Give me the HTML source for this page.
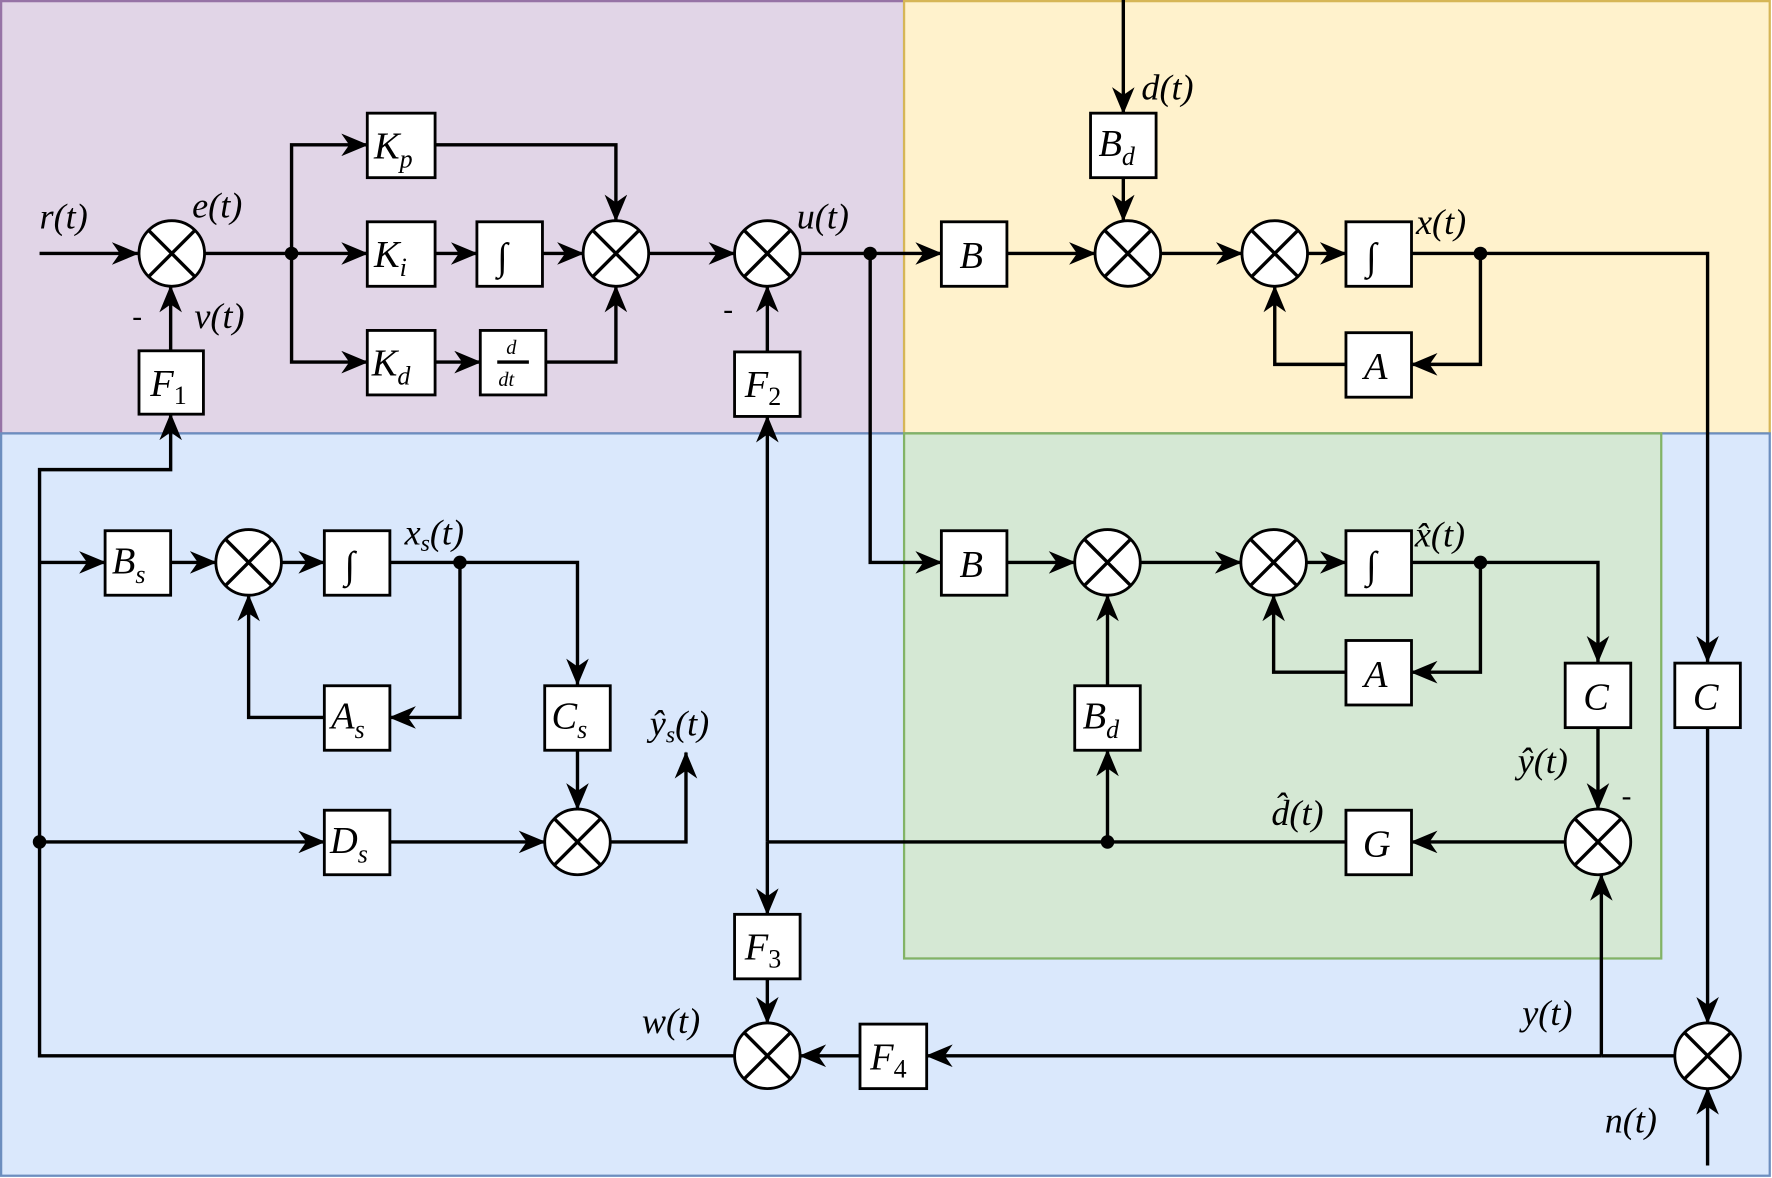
<!DOCTYPE html>
<html><head><meta charset="utf-8"><style>
html,body{margin:0;padding:0;background:#fff}
svg{display:block}
text{font-family:"Liberation Serif",serif;font-style:italic;fill:#000}
.b{fill:#fff;stroke:#000;stroke-width:2.5}
.l{fill:none;stroke:#000;stroke-width:3}
.a{fill:none;stroke:#000;stroke-width:3;marker-end:url(#ar)}
</style></head><body>
<svg width="1772" height="1178" viewBox="0 0 1568 1041" preserveAspectRatio="none" xmlns="http://www.w3.org/2000/svg">
<defs>
<marker id="ar" viewBox="0 0 24 20" refX="23" refY="10" markerWidth="24" markerHeight="20" markerUnits="userSpaceOnUse" orient="auto">
<path d="M0,0 L24,10 L0,20 L7,10 Z" fill="#000"/>
</marker>
<g id="sum"><circle r="29" class="b" stroke-width="3"/><path d="M-20.5,-20.5 L20.5,20.5 M20.5,-20.5 L-20.5,20.5" class="l"/></g>
</defs>
<rect x="1" y="1" width="799" height="382" fill="#e1d5e7" stroke="#9673a6" stroke-width="2"/>
<rect x="800" y="1" width="766" height="382" fill="#fff2cc" stroke="#d6b656" stroke-width="2"/>
<rect x="1" y="383" width="1565" height="656" fill="#dae8fc" stroke="#6c8ebf" stroke-width="2"/>
<rect x="800" y="383" width="670" height="464" fill="#d5e8d4" stroke="#82b366" stroke-width="2"/>

<path class="a" d="M35,224 H122"/>
<path class="a" d="M181,224 H325"/>
<path class="a" d="M258,224 V128 H325"/>
<path class="a" d="M258,224 V320 H325"/>
<path class="a" d="M385,224 H422"/>
<path class="a" d="M480,224 H516"/>
<path class="a" d="M385,128 H545 V195"/>
<path class="a" d="M483,320 H545 V253"/>
<path class="a" d="M385,320 H425"/>
<path class="a" d="M574,224 H650"/>
<path class="a" d="M708,224 H833"/>
<path class="a" d="M770,224 V497 H833"/>
<path class="a" d="M891,224 H969"/>
<path class="a" d="M994,0 V100"/>
<path class="a" d="M994,157 V195"/>
<path class="a" d="M1027,224 H1099"/>
<path class="a" d="M1157,224 H1191"/>
<path class="a" d="M1249,224 H1511 V585"/>
<path class="a" d="M1310,224 V322 H1249"/>
<path class="a" d="M1191,322 H1128 V253"/>
<path class="a" d="M151,310 V253"/>
<path class="a" d="M650,933 H35 V415 H151 V366"/>
<path class="a" d="M35,497 H93"/>
<path class="a" d="M35,744 H287"/>
<path class="a" d="M679,311 V253"/>
<path class="a" d="M679,744 V368"/>
<path class="a" d="M679,744 V808"/>
<path class="a" d="M1385,744 H1249"/>
<path class="l" d="M1191,744 H679"/>
<path class="a" d="M980,744 V663"/>
<path class="a" d="M980,605 V526"/>
<path class="a" d="M151,497 H191"/>
<path class="a" d="M249,497 H287"/>
<path class="a" d="M345,497 H511 V605"/>
<path class="a" d="M407,497 V634 H345"/>
<path class="a" d="M287,634 H220 V526"/>
<path class="a" d="M511,663 V715"/>
<path class="a" d="M345,744 H482"/>
<path class="a" d="M540,744 H607 V665"/>
<path class="a" d="M891,497 H951"/>
<path class="a" d="M1009,497 H1098"/>
<path class="a" d="M1156,497 H1191"/>
<path class="a" d="M1249,497 H1414 V585"/>
<path class="a" d="M1310,497 V594 H1249"/>
<path class="a" d="M1191,594 H1127 V526"/>
<path class="a" d="M1414,643 V715"/>
<path class="l" d="M1482,933 H1417"/>
<path class="a" d="M1417,933 V773"/>
<path class="a" d="M1417,933 H820"/>
<path class="a" d="M1511,643 V904"/>
<path class="a" d="M1511,1030 V962"/>
<path class="a" d="M761,933 H708"/>
<path class="a" d="M679,865 V904"/>

<g fill="#000"><circle cx="258" cy="224" r="6"/><circle cx="770" cy="224" r="6"/><circle cx="1310" cy="224" r="6"/><circle cx="407" cy="497" r="6"/><circle cx="1310" cy="497" r="6"/><circle cx="35" cy="744" r="6"/><circle cx="980" cy="744" r="6"/></g>

<use href="#sum" x="152" y="224"/><use href="#sum" x="545" y="224"/><use href="#sum" x="679" y="224"/>
<use href="#sum" x="998" y="224"/><use href="#sum" x="1128" y="224"/>
<use href="#sum" x="220" y="497"/><use href="#sum" x="511" y="744"/>
<use href="#sum" x="980" y="497"/><use href="#sum" x="1127" y="497"/><use href="#sum" x="1414" y="744"/>
<use href="#sum" x="1511" y="933"/><use href="#sum" x="679" y="933"/>

<g font-size="34">
<rect class="b" x="325" y="100" width="60" height="57"/><text x="331" y="140">K<tspan font-size="23" dy="8">p</tspan></text>
<rect class="b" x="325" y="196" width="60" height="57"/><text x="331" y="236">K<tspan font-size="23" dy="8">i</tspan></text>
<rect class="b" x="325" y="292" width="60" height="57"/><text x="329" y="332">K<tspan font-size="23" dy="8">d</tspan></text>
<rect class="b" x="422" y="196" width="58" height="57"/><text x="440" y="238" font-style="normal">∫</text>
<rect class="b" x="425" y="292" width="58" height="57"/><text x="448" y="313" font-size="18">d</text><path d="M440,320 H468" class="l" stroke-width="1.5"/><text x="441" y="341" font-size="18">dt</text>
<rect class="b" x="123" y="310" width="57" height="56"/><text x="133" y="350">F<tspan font-size="23" dy="7" font-style="normal">1</tspan></text>
<rect class="b" x="650" y="311" width="58" height="57"/><text x="659" y="351">F<tspan font-size="23" dy="7" font-style="normal">2</tspan></text>
<rect class="b" x="833" y="196" width="58" height="57"/><text x="849" y="237">B</text>
<rect class="b" x="965" y="100" width="58" height="57"/><text x="972" y="138">B<tspan font-size="23" dy="8">d</tspan></text>
<rect class="b" x="1191" y="196" width="58" height="57"/><text x="1209" y="238" font-style="normal">∫</text>
<rect class="b" x="1191" y="294" width="58" height="57"/><text x="1207" y="335">A</text>
<rect class="b" x="93" y="469" width="58" height="57"/><text x="99" y="507">B<tspan font-size="23" dy="8">s</tspan></text>
<rect class="b" x="287" y="469" width="58" height="57"/><text x="305" y="511" font-style="normal">∫</text>
<rect class="b" x="287" y="606" width="58" height="57"/><text x="293" y="644">A<tspan font-size="23" dy="8">s</tspan></text>
<rect class="b" x="482" y="606" width="58" height="57"/><text x="488" y="644">C<tspan font-size="23" dy="8">s</tspan></text>
<rect class="b" x="287" y="716" width="58" height="57"/><text x="292" y="754">D<tspan font-size="23" dy="8">s</tspan></text>
<rect class="b" x="833" y="469" width="58" height="57"/><text x="849" y="510">B</text>
<rect class="b" x="1191" y="469" width="58" height="57"/><text x="1209" y="511" font-style="normal">∫</text>
<rect class="b" x="1191" y="566" width="58" height="57"/><text x="1207" y="607">A</text>
<rect class="b" x="951" y="606" width="58" height="57"/><text x="958" y="644">B<tspan font-size="23" dy="8">d</tspan></text>
<rect class="b" x="1385" y="586" width="58" height="57"/><text x="1401" y="627">C</text>
<rect class="b" x="1482" y="586" width="58" height="57"/><text x="1498" y="627">C</text>
<rect class="b" x="1191" y="716" width="58" height="57"/><text x="1206" y="757">G</text>
<rect class="b" x="650" y="808" width="58" height="57"/><text x="659" y="848">F<tspan font-size="23" dy="7" font-style="normal">3</tspan></text>
<rect class="b" x="761" y="905" width="59" height="57"/><text x="770" y="945">F<tspan font-size="23" dy="7" font-style="normal">4</tspan></text>
</g>

<g font-size="32">
<text x="35" y="202">r(t)</text>
<text x="170" y="192">e(t)</text>
<text x="172" y="290">v(t)</text>
<text x="117" y="288" font-style="normal" font-size="26">-</text>
<text x="705" y="202">u(t)</text>
<text x="640" y="282" font-style="normal" font-size="26">-</text>
<text x="1010" y="88">d(t)</text>
<text x="1253" y="207">x(t)</text>
<text x="358" y="481">x<tspan font-size="21" dy="6">s</tspan><tspan dy="-6">(t)</tspan></text>
<text x="575" y="650">ŷ<tspan font-size="21" dy="6">s</tspan><tspan dy="-6">(t)</tspan></text>
<text x="1252" y="483">x̂(t)</text>
<text x="1343" y="683">ŷ(t)</text>
<text x="1435" y="712" font-style="normal" font-size="26">-</text>
<text x="1125" y="729">d̂(t)</text>
<text x="1347" y="906">y(t)</text>
<text x="1420" y="1001">n(t)</text>
<text x="568" y="913">w(t)</text>
</g>
</svg>
</body></html>
